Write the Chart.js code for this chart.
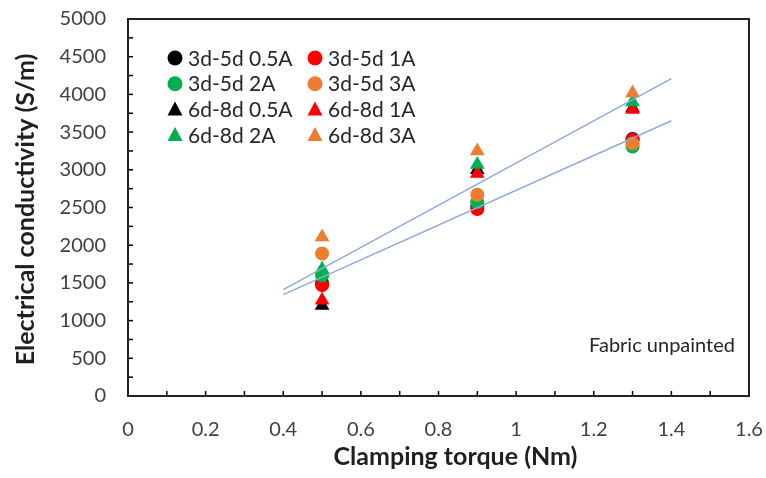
<!DOCTYPE html>
<html>
<head>
<meta charset="utf-8">
<script src="https://cdn.jsdelivr.net/npm/chart.js@4.4.1/dist/chart.umd.min.js"></script>
<style>
  html, body { margin: 0; padding: 0; background: #fff; }
  #wrap { width: 766px; height: 478px; position: relative; }
</style>
</head>
<body>
<div id="wrap"><canvas id="chart"></canvas></div>
<script>
const torques = [0.5, 0.9, 1.3];

const seriesLabels = [
  "3d-5d 0.5A", "3d-5d 1A", "3d-5d 2A", "3d-5d 3A",
  "6d-8d 0.5A", "6d-8d 1A", "6d-8d 2A", "6d-8d 3A",
];
const seriesColors = ["#000000", "#ff0000", "#00b050", "#ed7d31", "#000000", "#ff0000", "#00b050", "#ed7d31"];
const seriesShapes = ["circle", "circle", "circle", "circle", "triangle", "triangle", "triangle", "triangle"];

const s3d5d05 = [1500, 2510, 3410];
const s3d5d1 = [1470, 2480, 3400];
const s3d5d2 = [1600, 2570, 3310];
const s3d5d3 = [1890, 2670, 3350];
const s6d8d05 = [1200, 3000, 3820];
const s6d8d1 = [1270, 2950, 3800];
const s6d8d2 = [1680, 3070, 3900];
const s6d8d3 = [2110, 3250, 4020];
const seriesValues = [s3d5d05, s3d5d1, s3d5d2, s3d5d3, s6d8d05, s6d8d1, s6d8d2, s6d8d3];

// fitted trend lines (end points)
const trendX = [0.4, 1.4];
const trendUpper = [1410, 4210];
const trendLower = [1345, 3650];

const xTitle = "Clamping torque (Nm)";
const yTitle = "Electrical conductivity (S/m)";
const note = "Fabric unpainted";

const tickFont = "Lato, 'Open Sans', sans-serif";

const pointSets = seriesValues.map((vals, i) => ({
  label: seriesLabels[i],
  data: torques.map((t, k) => ({ x: t, y: vals[k] })),
  backgroundColor: seriesColors[i],
  borderColor: seriesColors[i],
  pointStyle: seriesShapes[i],
  pointRadius: seriesShapes[i] === "circle" ? 7 : 8.5,
  pointBorderWidth: 0,
  showLine: false,
  order: 10 - i,
}));

const lineSets = [trendUpper, trendLower].map((vals) => ({
  label: "",
  data: trendX.map((t, k) => ({ x: t, y: vals[k] })),
  borderColor: "#8eaadb",
  borderWidth: 1.5,
  pointRadius: 0,
  showLine: true,
  order: 0,
}));

function noOverflow(s) {
  s.paddingTop = 0;
  s.paddingBottom = 0;
  s.paddingLeft = 0;
  s.paddingRight = 0;
}

const frameAndLegend = {
  id: "frameAndLegend",
  afterDatasetsDraw(chart) {
    const { ctx, chartArea: a, scales } = chart;
    ctx.save();
    // inward tick marks
    ctx.strokeStyle = "#000";
    ctx.lineWidth = 1.5;
    scales.x.ticks.forEach((t) => {
      const px = scales.x.getPixelForValue(t.value);
      ctx.beginPath();
      ctx.moveTo(px, a.bottom);
      ctx.lineTo(px, a.bottom - 5);
      ctx.stroke();
    });
    scales.y.ticks.forEach((t) => {
      const py = scales.y.getPixelForValue(t.value);
      ctx.beginPath();
      ctx.moveTo(a.left, py);
      ctx.lineTo(a.left + 5, py);
      ctx.stroke();
    });
    // frame
    ctx.lineWidth = 2;
    ctx.strokeStyle = "#222";
    ctx.strokeRect(a.left, a.top, a.right - a.left, a.bottom - a.top);

    // legend, two columns
    ctx.font = "21px " + tickFont;
    ctx.textBaseline = "middle";
    seriesLabels.forEach((lab, i) => {
      const col = i % 2;
      const row = Math.floor(i / 2);
      const mx = a.left + 47 + col * 140;
      const my = a.top + 39 + row * 25.7;
      ctx.fillStyle = seriesColors[i];
      ctx.beginPath();
      if (seriesShapes[i] === "circle") {
        ctx.arc(mx, my, 7.5, 0, Math.PI * 2);
      } else {
        ctx.moveTo(mx, my - 8);
        ctx.lineTo(mx + 7.5, my + 6);
        ctx.lineTo(mx - 7.5, my + 6);
        ctx.closePath();
      }
      ctx.fill();
      ctx.fillStyle = "#262626";
      ctx.textAlign = "left";
      ctx.fillText(lab, mx + 13, my + 1);
    });

    // note
    ctx.font = "20px " + tickFont;
    ctx.textAlign = "right";
    ctx.fillStyle = "#262626";
    ctx.fillText(note, a.right - 14, a.bottom - 50);

    // axis titles
    ctx.fillStyle = "#1f1f1f";
    ctx.textBaseline = "alphabetic";
    ctx.textAlign = "center";
    ctx.font = "bold 25px " + tickFont;
    ctx.fillText(xTitle, (a.left + a.right) / 2 + 17, a.bottom + 69);
    ctx.translate(34, (a.top + a.bottom) / 2 + 2);
    ctx.rotate(-Math.PI / 2);
    ctx.fillText(yTitle, 0, 0);
    ctx.restore();
  },
};

new Chart(document.getElementById("chart"), {
  type: "scatter",
  data: { datasets: [...lineSets, ...pointSets] },
  options: {
    responsive: true,
    maintainAspectRatio: false,
    animation: false,
    layout: { padding: { top: 19, right: 17, left: 0, bottom: 0 } },
    plugins: {
      legend: { display: false },
      tooltip: { enabled: false },
    },
    scales: {
      x: {
        type: "linear",
        min: 0,
        max: 1.6,
        afterFit: (s) => { s.height = 82; noOverflow(s); },
        ticks: {
          stepSize: 0.1,
          autoSkip: false,
          maxRotation: 0,
          padding: 22,
          color: "#404040",
          font: { family: tickFont, size: 20 },
          callback: (v) => (Math.round(v * 10) % 2 === 0 ? String(Math.round(v * 10) / 10) : ""),
        },
        grid: { drawOnChartArea: false, drawTicks: false },
        border: { display: true, color: "#000", width: 2 },
      },
      y: {
        min: 0,
        max: 5000,
        afterFit: (s) => { s.width = 128; noOverflow(s); },
        ticks: {
          stepSize: 250,
          autoSkip: false,
          padding: 22,
          color: "#404040",
          font: { family: tickFont, size: 20 },
          callback: (v) => (v % 500 === 0 ? String(v) : ""),
        },
        grid: { drawOnChartArea: false, drawTicks: false },
        border: { display: true, color: "#000", width: 2 },
      },
    },
  },
  plugins: [frameAndLegend],
});
</script>
</body>
</html>
